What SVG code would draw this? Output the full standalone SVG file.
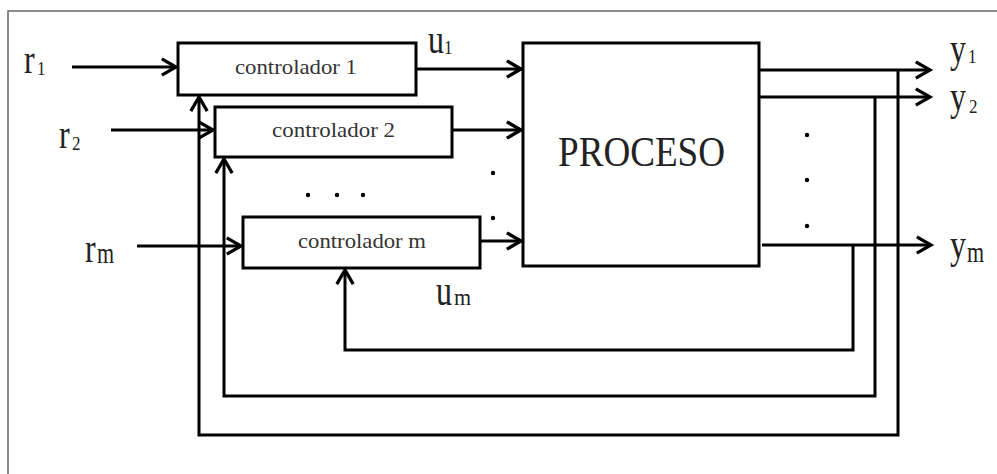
<svg xmlns="http://www.w3.org/2000/svg" width="997" height="474" viewBox="0 0 997 474">
  <style>
    .box { fill: #fff; stroke: #000; stroke-width: 3; }
    .wire { fill: none; stroke: #000; stroke-width: 3; stroke-linejoin: miter; }
    .frame { fill: none; stroke: #666; stroke-width: 1.5; }
    text { font-family: "Liberation Serif", "Times New Roman", serif; fill: #222; }
    .ctl { font-size: 21px; fill: #333; }
    .big { font-size: 42px; }
    .main { font-size: 32px; }
    .sub { font-size: 17px; }
    .subm { font-size: 22px; }
    .dot { fill: #000; }
  </style>
  <defs>
    <marker id="arr" markerUnits="userSpaceOnUse" markerWidth="24" markerHeight="24" viewBox="-3 -3 22 22" refX="14" refY="8" orient="auto">
      <path d="M1,0.5 L14,8 L1,15.5" fill="none" stroke="#000" stroke-width="3"/>
    </marker>
  </defs>

  <rect width="997" height="474" fill="#fff"/>
  <path class="frame" d="M8,474 V11 H997"/>

  <g id="connectors">
    <path class="wire" d="M72,67 H176" marker-end="url(#arr)"/>
    <path class="wire" d="M111,130 H213" marker-end="url(#arr)"/>
    <path class="wire" d="M137,246 H241" marker-end="url(#arr)"/>
    <path class="wire" d="M416,69 H521" marker-end="url(#arr)"/>
    <path class="wire" d="M452,130 H521" marker-end="url(#arr)"/>
    <path class="wire" d="M481,241 H521" stroke-width="4" marker-end="url(#arr)"/>
    <path class="wire" d="M759,70 H930" marker-end="url(#arr)"/>
    <path class="wire" d="M759,97 H930" marker-end="url(#arr)"/>
    <path class="wire" d="M762,245 H931" marker-end="url(#arr)"/>
    <path class="wire" d="M898,70 V435 H199 V97" marker-end="url(#arr)"/>
    <path class="wire" d="M875,97 V396 H224 V159" marker-end="url(#arr)"/>
    <path class="wire" d="M853,245 V350 H345 V270" marker-end="url(#arr)"/>
  </g>

  <g id="controlador1">
    <rect class="box" x="178" y="43" width="238" height="52"/>
    <text class="ctl" x="235" y="74" textLength="122" lengthAdjust="spacingAndGlyphs">controlador 1</text>
  </g>
  <g id="controlador2">
    <rect class="box" x="215" y="107" width="237" height="50"/>
    <text class="ctl" x="272" y="137" textLength="123" lengthAdjust="spacingAndGlyphs">controlador 2</text>
  </g>
  <g id="controladorm">
    <rect class="box" x="243" y="217" width="237" height="51"/>
    <text class="ctl" x="298" y="248" textLength="128" lengthAdjust="spacingAndGlyphs">controlador m</text>
  </g>
  <g id="proceso">
    <rect class="box" x="523" y="43" width="236" height="223"/>
    <text class="big" x="558" y="166" textLength="167" lengthAdjust="spacingAndGlyphs">PROCESO</text>
  </g>

  <g id="dots">
    <circle class="dot" cx="308" cy="195" r="2.2"/>
    <circle class="dot" cx="337" cy="195" r="2.2"/>
    <circle class="dot" cx="363" cy="195" r="2.2"/>
    <circle class="dot" cx="493" cy="173" r="2.2"/>
    <circle class="dot" cx="493" cy="218" r="2.2"/>
    <circle class="dot" cx="807" cy="135" r="2.2"/>
    <circle class="dot" cx="807" cy="180" r="2.2"/>
    <circle class="dot" cx="807" cy="226" r="2.2"/>
  </g>

  <g id="labels">
    <text class="main" transform="translate(24,73) scale(1,1.35)">r</text>
    <text class="sub" transform="translate(37,75) scale(1,1.15)">1</text>
    <text class="main" transform="translate(59,148) scale(1,1.35)">r</text>
    <text class="sub" transform="translate(72,150) scale(1,1.15)">2</text>
    <text class="main" transform="translate(85,262) scale(1,1.35)">r</text>
    <text class="subm" transform="translate(97,263) scale(1,1.35)">m</text>
    <text class="main" transform="translate(428,53) scale(1,1.35)">u</text>
    <text class="sub" transform="translate(444,54) scale(1,1.15)">1</text>
    <text class="main" transform="translate(436,305) scale(1,1.4)">u</text>
    <text class="subm" transform="translate(454,305) scale(1,1.05)">m</text>
    <text class="main" transform="translate(950,62) scale(1,1.35)">y</text>
    <text class="sub" transform="translate(968,63) scale(1,1.15)">1</text>
    <text class="main" transform="translate(950,110) scale(1,1.35)">y</text>
    <text class="sub" transform="translate(969,113) scale(1,1.15)">2</text>
    <text class="main" transform="translate(950,258) scale(1,1.35)">y</text>
    <text class="subm" transform="translate(967,262) scale(1,1.35)">m</text>
  </g>
</svg>
